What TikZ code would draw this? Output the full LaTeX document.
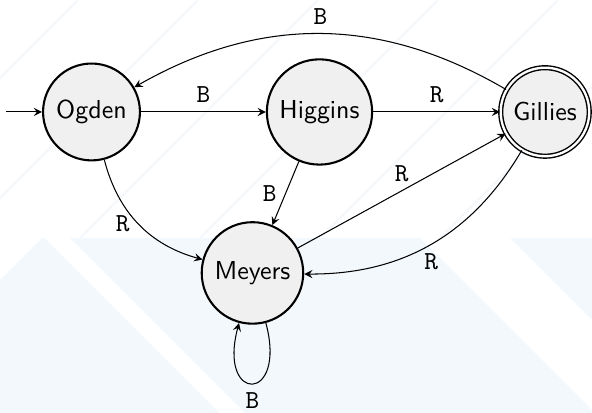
\documentclass[tikz,border=0pt]{standalone}
\usepackage{amsmath}
\usepackage{tikz}
\definecolor{bgblue}{RGB}{243,248,252}
\definecolor{bgline}{RGB}{245,249,253}
\begin{document}
\begin{tikzpicture}
    \tikzstyle{state} = [circle, draw=black, thick, fill=black!6, font=\sffamily, inner sep=3.33pt]
    \tikzstyle{accepting} = [double, double distance=0.9pt, line width=0.55pt]
    \tikzstyle{arrow} = [->, >=stealth, thin]
    \tikzstyle{lbl} = [font=\ttfamily]
    \useasboundingbox (-1.238,-4.073) rectangle (6.772,1.515);
    % faint background pattern
    \begin{scope}[shift={(-1.238,1.515)}, x=0.385pt, y=-0.385pt]
        \fill[bgblue] (0,280) -- (42,238) -- (592,238) -- (592,413) -- (0,413) -- cycle;
        \fill[white] (45,238) -- (70,238) -- (245,413) -- (220,413) -- cycle;
        \fill[white] (420,238) -- (510,238) -- (592,320) -- (592,413) -- (595,413) -- cycle;
        \foreach \s in {-160,-40,80,200,320,440}
            \draw[bgline, line width=1pt] (\s,238) -- (\s+238,0);
    \end{scope}
    \node[state] (Og) at (0,0) {Ogden};
    \node[state] (Hi) at (3.085,0) {Higgins};
    \node[state, accepting] (Gi) at (6.136,0) {Gillies};
    \node[state] (Me) at (2.178,-2.178) {Meyers};
    \coordinate (start) at (-1.157,0);
    \draw[arrow] (start) -- (Og);
    \draw[arrow] (Og) to node[lbl, midway, above] {B} (Hi);
    \draw[arrow] (Hi) to node[lbl, midway, above] {R} (Gi);
    \draw[arrow] (Gi) to[bend right] node[lbl, midway, above] {B} (Og);
    \draw[arrow] (Og) to[bend right] node[lbl, midway, left] {R} (Me);
    \draw[arrow] (Hi) to node[lbl, midway, left] {B} (Me);
    \draw[arrow] (Me) to node[lbl, midway, above] {R} (Gi);
    \draw[arrow] (Gi) to[bend left] node[lbl, midway, below] {R} (Me);
    \draw[arrow] (Me) to[loop below] node[lbl, below] {B} (Me);
\end{tikzpicture}
\end{document}
